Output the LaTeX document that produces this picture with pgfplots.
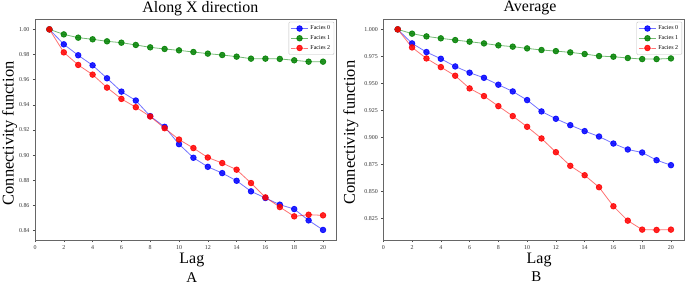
\documentclass[border=0pt]{standalone}
\usepackage{fontspec}
\setmainfont{Liberation Serif}
\usepackage{pgfplots}
\pgfplotsset{compat=1.18}
\definecolor{mblue}{RGB}{0,0,255}
\definecolor{mgreen}{RGB}{0,128,0}
\definecolor{mred}{RGB}{255,0,0}
\pgfplotsset{
  common/.style={
    scale only axis,
    clip mode=individual,
    width=301.5bp, height=220.7bp,
    xmin=0, xmax=20.95,
    xtick={0,2,...,20},
    tick align=outside,
    major tick length=2bp,
    tick style={black!70, line width=0.5pt},
    xtick pos=bottom, ytick pos=left,
    axis line style={black!60, line width=0.8pt},
    /pgf/number format/assume math mode=true,
    ticklabel style={font=\fontsize{6}{7}\selectfont, black!80},
    every axis title shift=0pt,
    title style={font=\fontsize{16}{18}\selectfont, anchor=center},
    xlabel style={font=\fontsize{16}{18}\selectfont, anchor=center},
    ylabel style={font=\fontsize{16.5}{18}\selectfont, anchor=center, inner sep=0pt},
    legend style={at={(1,1)}, anchor=north east, xshift=-2.5bp, yshift=-2.5bp, font=\fontsize{6}{7}\selectfont, draw=black!25, rounded corners=1pt, inner sep=1.8pt, row sep=0.3pt, fill=white},
    legend cell align=left,
    every axis plot/.append style={line width=0.8pt, mark=*, mark size=2.8bp, draw opacity=0.55, mark options={draw opacity=0.85, fill opacity=0.85}},
  }
}
\begin{document}
\begin{tikzpicture}
\useasboundingbox (0,0) rectangle (685bp,285bp);
\begin{axis}[common,
  at={(35bp,45bp)}, anchor=south west,
  width=301.7bp,
  ymin=0.8325, ymax=1.008,
  ytick={0.84,0.86,...,1.001},
  yticklabel style={/pgf/number format/.cd, fixed, fixed zerofill, precision=2},
  title={Along X direction},
  title style={at={(axis description cs:0.548,1.05)}},
  xlabel={Lag},
  xlabel style={at={(axis description cs:0.52,-0.091)}},
  ylabel={Connectivity function},
  ylabel style={at={(axis description cs:-0.0845,0.483)}},
]
\addplot[color=mblue] coordinates {(1,1.000)(2,0.9881)(3,0.9794)(4,0.9714)(5,0.9611)(6,0.9505)(7,0.9434)(8,0.9310)(9,0.9225)(10,0.9087)(11,0.8979)(12,0.8907)(13,0.8857)(14,0.8796)(15,0.8712)(16,0.8659)(17,0.8606)(18,0.8571)(19,0.8481)(20,0.8405)};
\addlegendentry{Facies 0}
\addplot[color=mgreen] coordinates {(1,1.000)(2,0.9960)(3,0.9934)(4,0.9921)(5,0.9905)(6,0.9894)(7,0.9876)(8,0.9857)(9,0.9844)(10,0.9833)(11,0.9820)(12,0.9807)(13,0.9796)(14,0.9783)(15,0.9767)(16,0.9767)(17,0.9765)(18,0.9754)(19,0.9743)(20,0.9743)};
\addlegendentry{Facies 1}
\addplot[color=mred] coordinates {(1,1.000)(2,0.9817)(3,0.9717)(4,0.9640)(5,0.9537)(6,0.9447)(7,0.9381)(8,0.9307)(9,0.9214)(10,0.9124)(11,0.9056)(12,0.8981)(13,0.8937)(14,0.8884)(15,0.8778)(16,0.8664)(17,0.8587)(18,0.8513)(19,0.8526)(20,0.8521)};
\addlegendentry{Facies 2}
\node[font=\fontsize{15}{17}\selectfont] at (axis description cs:0.52,-0.168) {A};
\end{axis}
\begin{axis}[common,
  at={(383.3bp,45bp)}, anchor=south west,
  width=301.3bp,
  ymin=0.8052, ymax=1.0093,
  ytick={0.825,0.850,...,1.001},
  yticklabel style={/pgf/number format/.cd, fixed, fixed zerofill, precision=3},
  title={Average},
  title style={at={(axis description cs:0.487,1.05)}},
  xlabel={Lag},
  xlabel style={at={(axis description cs:0.517,-0.091)}},
  ylabel={Connectivity function},
  ylabel style={at={(axis description cs:-0.108,0.487)}},
]
\addplot[color=mblue] coordinates {(1,1.000)(2,0.9870)(3,0.9790)(4,0.9728)(5,0.9657)(6,0.9599)(7,0.9552)(8,0.9488)(9,0.9426)(10,0.9346)(11,0.9241)(12,0.9173)(13,0.9114)(14,0.9059)(15,0.9009)(16,0.8944)(17,0.8889)(18,0.8861)(19,0.8790)(20,0.8744)};
\addlegendentry{Facies 0}
\addplot[color=mgreen] coordinates {(1,1.000)(2,0.9960)(3,0.9935)(4,0.9917)(5,0.9901)(6,0.9886)(7,0.9870)(8,0.9852)(9,0.9840)(10,0.9824)(11,0.9809)(12,0.9799)(13,0.9787)(14,0.9772)(15,0.9753)(16,0.9747)(17,0.9735)(18,0.9725)(19,0.9725)(20,0.9731)};
\addlegendentry{Facies 1}
\addplot[color=mred] coordinates {(1,1.000)(2,0.9833)(3,0.9731)(4,0.9651)(5,0.9571)(6,0.9454)(7,0.9383)(8,0.9290)(9,0.9198)(10,0.9099)(11,0.8991)(12,0.8864)(13,0.8738)(14,0.8651)(15,0.8540)(16,0.8364)(17,0.8231)(18,0.8148)(19,0.8145)(20,0.8148)};
\addlegendentry{Facies 2}
\node[font=\fontsize{15}{17}\selectfont] at (axis description cs:0.508,-0.168) {B};
\end{axis}
\end{tikzpicture}
\end{document}
